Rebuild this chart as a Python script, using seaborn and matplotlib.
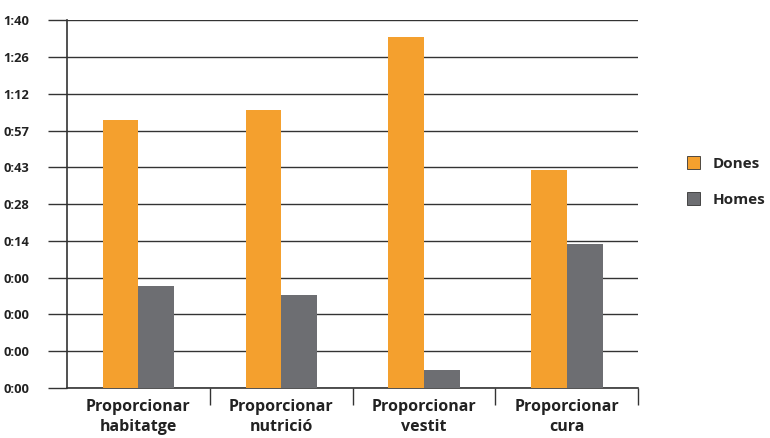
import matplotlib
matplotlib.use('Agg')
import matplotlib.pyplot as plt
import seaborn as sns
import pandas as pd
from matplotlib.patches import Patch

# Data (in grid units, one unit per gridline)
categories = ['Proporcionar\nhabitatge', 'Proporcionar\nnutrició',
              'Proporcionar\nvestit', 'Proporcionar\ncura']
dones = [7.28, 7.55, 9.54, 5.92]
homes = [2.77, 2.53, 0.49, 3.91]
tick_labels = ['0:00', '0:00', '0:00', '0:00', '0:14', '0:28',
               '0:43', '0:57', '1:12', '1:26', '1:40']

orange = '#F4A02E'
grey = '#6D6E72'
dark = '#333333'

df = pd.DataFrame({
    'categoria': categories * 2,
    'valor': dones + homes,
    'sexe': ['Dones'] * len(dones) + ['Homes'] * len(homes),
})

sns.set_theme(style='white')
plt.rcParams['font.family'] = ['Open Sans', 'DejaVu Sans']

fig = plt.figure(figsize=(7.7, 4.38), dpi=100)
ax = fig.add_axes([0.087, 0.114, 0.742, 0.840])

sns.barplot(data=df, x='categoria', y='valor', hue='sexe',
            palette={'Dones': orange, 'Homes': grey},
            width=0.5, gap=0, saturation=1, linewidth=0,
            legend=False, ax=ax, zorder=3)

ax.set_ylim(0, 10)
ax.set_xlim(-0.5, 3.5)
ax.set_yticks(range(len(tick_labels)))
ax.set_yticklabels(tick_labels, fontsize=9.3, fontweight='bold', color='#222222')
ax.yaxis.grid(True, color=dark, linewidth=1.0, zorder=0)
ax.tick_params(axis='y', length=14, width=1.0, color=dark, pad=13, left=True)

ax.set_xticks(range(len(categories)))
ax.set_xticklabels(categories, fontsize=11.5, fontweight='bold',
                   color='#222222', linespacing=1.3)
ax.tick_params(axis='x', which='major', length=0, pad=8)
ax.set_xticks([0.5, 1.5, 2.5, 3.5], minor=True)
ax.tick_params(axis='x', which='minor', length=12, width=1.0,
               color=dark, bottom=True, direction='out')

ax.set_xlabel('')
ax.set_ylabel('')
for side in ['top', 'right']:
    ax.spines[side].set_visible(False)
for side in ['left', 'bottom']:
    ax.spines[side].set_color(dark)
    ax.spines[side].set_linewidth(1.2)

handles = [Patch(facecolor=orange, edgecolor=dark, linewidth=0.6, label='Dones'),
           Patch(facecolor=grey, edgecolor=dark, linewidth=0.6, label='Homes')]
fig.legend(handles=handles, loc='center left', bbox_to_anchor=(0.874, 0.585),
           frameon=False, handlelength=0.9, handleheight=0.9,
           labelspacing=1.4, handletextpad=0.8,
           prop={'weight': 'bold', 'size': 11})

fig.savefig('out.png', dpi=100)
